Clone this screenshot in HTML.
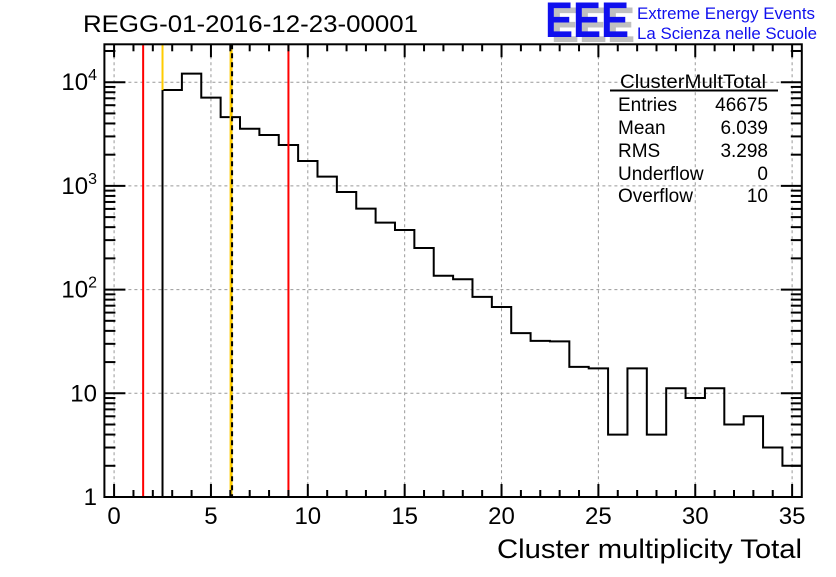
<!DOCTYPE html>
<html><head><meta charset="utf-8"><style>
html,body{margin:0;padding:0;background:#fff;}
svg text{font-family:"Liberation Sans",sans-serif;}
</style></head><body>
<svg id="c" width="836" height="572" viewBox="0 0 836 572" xmlns="http://www.w3.org/2000/svg">
<rect width="836" height="572" fill="#fff"/>
<text x="83" y="32" font-size="24" textLength="335" lengthAdjust="spacingAndGlyphs">REGG-01-2016-12-23-00001</text>
<g>
<text x="551" y="42" font-size="50" font-weight="bold" fill="#c0c0c0" textLength="84" lengthAdjust="spacingAndGlyphs">EEE</text>
<text x="545" y="37" font-size="50" font-weight="bold" fill="#1010ee" textLength="84" lengthAdjust="spacingAndGlyphs">EEE</text>
<text x="637" y="19" font-size="16.5" fill="#1010ee" textLength="178" lengthAdjust="spacingAndGlyphs">Extreme Energy Events</text>
<text x="637" y="39" font-size="16.5" fill="#1010ee" textLength="180" lengthAdjust="spacingAndGlyphs">La Scienza nelle Scuole</text>
</g>
<g id="grid"></g>
<g id="marks"></g>
<g id="axes"></g>
<g font-size="19">
<text x="693" y="88" text-anchor="middle" textLength="146" lengthAdjust="spacingAndGlyphs">ClusterMultTotal</text>
<line x1="610" y1="90.5" x2="778" y2="90.5" stroke="#000" stroke-width="2"/>
<text x="618" y="111">Entries</text><text x="768" y="111" text-anchor="end">46675</text>
<text x="618" y="134">Mean</text><text x="768" y="134" text-anchor="end">6.039</text>
<text x="618" y="157">RMS</text><text x="768" y="157" text-anchor="end">3.298</text>
<text x="618" y="180">Underflow</text><text x="768" y="180" text-anchor="end">0</text>
<text x="618" y="202">Overflow</text><text x="768" y="202" text-anchor="end">10</text>
</g>
<text x="497" y="558" font-size="27" textLength="305" lengthAdjust="spacingAndGlyphs">Cluster multiplicity Total</text>
</svg>
<script>
const binCenters=[3,4,5,6,7,8,9,10,11,12,13,14,15,16,17,18,19,20,21,22,23,24,25,26,27,28,29,30,31,32,33,34,35];
const counts=[8400,12100,7100,4600,3560,3100,2480,1740,1230,873,603,442,376,252,136,126,85,68,38,32,31.7,18,17.4,4,17.4,4,11.2,9,11.2,5,6,3,2];
const xTicks=[0,5,10,15,20,25,30,35];
const yDecades=[0,1,2,3,4];
const yTickLabels=["1","10","10²","10³","10⁴"];
const redLines=[1.5,9];
const yellowLines=[2.5];
const meanValue=[6.039];
const X0=-0.5,X1=35.5,L=104.4,R=801.8,T=44.3,B=497,DEC=103.7;
const sx=v=>L+(v-X0)/(X1-X0)*(R-L);
const sy=v=>B-Math.log10(v)*DEC;
const NS="http://www.w3.org/2000/svg";
function mk(p,tag,at){const e=document.createElementNS(NS,tag);for(const k in at)e.setAttribute(k,at[k]);p.appendChild(e);return e;}
const grid=document.getElementById('grid'),marks=document.getElementById('marks'),axes=document.getElementById('axes');
xTicks.forEach(t=>{const l=mk(grid,'line',{x1:sx(t),x2:sx(t),y1:T,y2:B,stroke:'#999','stroke-dasharray':'3,3'});

});
yDecades.forEach(d=>{if(d===0)return;const l=mk(grid,'line',{x1:L,x2:R,y1:sy(Math.pow(10,d)),y2:sy(Math.pow(10,d)),stroke:'#999','stroke-dasharray':'3,3'});

});
let d='M'+sx(binCenters[0]-0.5)+','+B;
binCenters.forEach((c,i)=>{const y=sy(counts[i]);d+=' L'+sx(c-0.5)+','+y+' L'+sx(c+0.5)+','+y;});
const h=mk(marks,'path',{d:d,fill:'none',stroke:'#000','stroke-width':2});


redLines.forEach(v=>{const l=mk(marks,'line',{x1:sx(v),x2:sx(v),y1:T,y2:B,stroke:'#f00','stroke-width':2});

});
yellowLines.forEach(v=>{const l=mk(marks,'line',{x1:sx(v),x2:sx(v),y1:T,y2:sy(counts[0]),stroke:'#fc0','stroke-width':2});

});
meanValue.forEach(v=>{const l=mk(marks,'line',{x1:sx(v),x2:sx(v),y1:T,y2:B,stroke:'#fc0','stroke-width':3});


const l2=mk(marks,'line',{x1:sx(v)+1,x2:sx(v)+1,y1:T,y2:B,stroke:'#000','stroke-width':2,'stroke-dasharray':'5,4'});

});
const fr=mk(axes,'rect',{x:L,y:T,width:R-L,height:B-T,fill:'none',stroke:'#000','stroke-width':2});


for(let v=0;v<=35;v++){const len=(v%5===0)?13:7;const x=sx(v);
mk(axes,'line',{x1:x,x2:x,y1:B,y2:B-len,stroke:'#000','stroke-width':2});
mk(axes,'line',{x1:x,x2:x,y1:T,y2:T+len,stroke:'#000','stroke-width':2});}
xTicks.forEach(t=>{const tx=mk(axes,'text',{x:sx(t),y:524,'font-size':24,'text-anchor':'middle'});tx.textContent=t;

});
for(let dd=0;dd<=4;dd++){for(let m=1;m<=9;m++){const v=m*Math.pow(10,dd);const y=sy(v);if(y<T)break;const len=m===1?21:11;
mk(axes,'line',{x1:L,x2:L+len,y1:y,y2:y,stroke:'#000','stroke-width':2});
mk(axes,'line',{x1:R,x2:R-len,y1:y,y2:y,stroke:'#000','stroke-width':2});}}
yDecades.forEach((dd,i)=>{const y=sy(Math.pow(10,dd));const tx=mk(axes,'text',{x:97,y:y+8,'font-size':24,'text-anchor':'end'});
if(dd>=2){tx.textContent='10';const s=mk(tx,'tspan',{dy:-10,'font-size':16});s.textContent=String(dd);}else tx.textContent=yTickLabels[i];

});
</script>
</body></html>
